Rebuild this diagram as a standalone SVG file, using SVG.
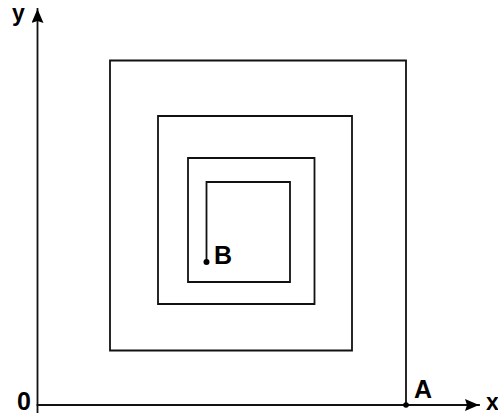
<svg xmlns="http://www.w3.org/2000/svg" width="498" height="414" viewBox="0 0 498 414">
  <style>
    .ln { fill: none; stroke: #111; stroke-width: 1.8; stroke-linecap: square; stroke-linejoin: miter; }
    .lbl { font-family: "Liberation Sans", Arial, sans-serif; font-weight: bold; font-size: 25px; fill: #000; }
    .sm { font-size: 23px; }
    .dot { fill: #000; }
  </style>
  <defs>
    <marker id="arr" viewBox="0 0 14 12" refX="14" refY="6" markerWidth="14" markerHeight="12" markerUnits="userSpaceOnUse" orient="auto">
      <path d="M0,0 L14,6 L0,12 L2,6 Z" fill="#000"/>
    </marker>
  </defs>
  <rect width="498" height="414" fill="#fff"/>
  <g id="connectors">
    <line id="axis-y" class="ln" x1="37.5" y1="412" x2="37.5" y2="9" marker-end="url(#arr)"/>
    <line id="axis-x" class="ln" x1="37.5" y1="405" x2="479" y2="405" marker-end="url(#arr)"/>
    <path id="spiral" class="ln" d="M406,405 V60.5 H110 V350.5 H352 V116 H158 V304 H314.5 V158 H188 V282 H290 V182 H206.5 V262"/>
  </g>
  <g id="label-y"><text class="lbl sm" x="12" y="21">y</text></g>
  <g id="label-x"><text class="lbl sm" x="486" y="410">x</text></g>
  <g id="origin"><text class="lbl" x="17" y="410">0</text></g>
  <g id="point-A">
    <circle class="dot" cx="406" cy="405" r="2.8"/>
    <text class="lbl" x="414" y="398">A</text>
  </g>
  <g id="point-B">
    <circle class="dot" cx="206.5" cy="262" r="3"/>
    <text class="lbl" x="214" y="264">B</text>
  </g>
</svg>
